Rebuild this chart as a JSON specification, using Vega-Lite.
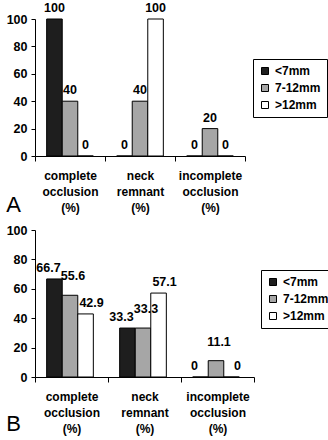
{
  "$schema": "https://vega.github.io/schema/vega-lite/v6.json",
  "background": "white",
  "padding": {"left": 6, "top": 2, "right": 2, "bottom": 1},
  "spacing": 8,
  "config": {
    "font": "Liberation Sans",
    "view": {"stroke": null},
    "axis": {
      "domainColor": "black",
      "tickColor": "black",
      "labelColor": "black",
      "labelFont": "Liberation Sans",
      "labelFontWeight": "bold",
      "grid": false
    },
    "axisX": {"labelFontSize": 12, "labelLineHeight": 16, "tickSize": 5, "labelPadding": 9, "labelAngle": 0},
    "axisY": {"labelFontSize": 12.5, "tickSize": 4, "labelPadding": 4},
    "legend": {
      "orient": "none",
      "title": null,
      "strokeColor": "black",
      "fillColor": "white",
      "padding": 6,
      "symbolType": "square",
      "symbolSize": 49,
      "symbolStrokeColor": "black",
      "symbolStrokeWidth": 1,
      "labelFont": "Liberation Sans",
      "labelFontSize": 12,
      "labelFontWeight": "bold",
      "labelColor": "black",
      "rowPadding": 5,
      "labelOffset": 4
    },
    "title": {"font": "Liberation Sans", "fontSize": 22, "fontWeight": "normal", "color": "black"}
  },
  "data": {
    "values": [
      {"panel": "A", "outcome": "complete occlusion (%)", "size": "<7mm", "value": 100},
      {"panel": "A", "outcome": "complete occlusion (%)", "size": "7-12mm", "value": 40},
      {"panel": "A", "outcome": "complete occlusion (%)", "size": ">12mm", "value": 0},
      {"panel": "A", "outcome": "neck remnant (%)", "size": "<7mm", "value": 0},
      {"panel": "A", "outcome": "neck remnant (%)", "size": "7-12mm", "value": 40},
      {"panel": "A", "outcome": "neck remnant (%)", "size": ">12mm", "value": 100},
      {"panel": "A", "outcome": "incomplete occlusion (%)", "size": "<7mm", "value": 0},
      {"panel": "A", "outcome": "incomplete occlusion (%)", "size": "7-12mm", "value": 20},
      {"panel": "A", "outcome": "incomplete occlusion (%)", "size": ">12mm", "value": 0},
      {"panel": "B", "outcome": "complete occlusion (%)", "size": "<7mm", "value": 66.7},
      {"panel": "B", "outcome": "complete occlusion (%)", "size": "7-12mm", "value": 55.6},
      {"panel": "B", "outcome": "complete occlusion (%)", "size": ">12mm", "value": 42.9},
      {"panel": "B", "outcome": "neck remnant (%)", "size": "<7mm", "value": 33.3},
      {"panel": "B", "outcome": "neck remnant (%)", "size": "7-12mm", "value": 33.3},
      {"panel": "B", "outcome": "neck remnant (%)", "size": ">12mm", "value": 57.1},
      {"panel": "B", "outcome": "incomplete occlusion (%)", "size": "<7mm", "value": 0},
      {"panel": "B", "outcome": "incomplete occlusion (%)", "size": "7-12mm", "value": 11.1},
      {"panel": "B", "outcome": "incomplete occlusion (%)", "size": ">12mm", "value": 0}
    ]
  },
  "resolve": {"scale": {"fill": "independent"}, "legend": {"fill": "independent"}},
  "vconcat": [
    {
      "width": 210,
      "height": 137,
      "transform": [{"filter": "datum.panel == 'A'"}],
      "title": {"text": "A", "orient": "bottom", "anchor": "start", "frame": "bounds", "offset": -18},
      "encoding": {
        "x": {"field": "outcome", "type": "nominal", "sort": ["complete occlusion (%)", "neck remnant (%)", "incomplete occlusion (%)"],
          "scale": {"paddingInner": 0, "paddingOuter": 0},
          "axis": {"title": null, "tickBand": "extent", "labelExpr": "split(datum.label, ' ')"}},
        "xOffset": {"field": "size", "type": "nominal", "sort": ["<7mm", "7-12mm", ">12mm"], "scale": {"paddingInner": 0, "paddingOuter": 0.75}},
        "y": {"field": "value", "type": "quantitative", "scale": {"domain": [0, 100]}, "axis": {"title": null, "values": [0, 20, 40, 60, 80, 100]}}
      },
      "layer": [
        {
          "mark": {"type": "bar", "stroke": "black", "strokeWidth": 1},
          "encoding": {
            "fill": {"field": "size", "type": "nominal", "sort": ["<7mm", "7-12mm", ">12mm"],
              "scale": {"domain": ["<7mm", "7-12mm", ">12mm"], "range": ["#1e1e1e", "#a6a6a6", "#ffffff"]},
              "legend": {"legendX": 218, "legendY": 40}}
          }
        },
        {
          "mark": {"type": "text", "baseline": "alphabetic", "dy": -7, "fontWeight": "bold", "fontSize": 12.5, "color": "black"},
          "encoding": {"text": {"field": "value", "type": "quantitative"}}
        }
      ]
    },
    {
      "width": 219,
      "height": 147,
      "transform": [{"filter": "datum.panel == 'B'"}],
      "title": {"text": "B", "orient": "bottom", "anchor": "start", "frame": "bounds", "offset": -20},
      "encoding": {
        "x": {"field": "outcome", "type": "nominal", "sort": ["complete occlusion (%)", "neck remnant (%)", "incomplete occlusion (%)"],
          "scale": {"paddingInner": 0, "paddingOuter": 0},
          "axis": {"title": null, "tickBand": "extent", "labelExpr": "split(datum.label, ' ')"}},
        "xOffset": {"field": "size", "type": "nominal", "sort": ["<7mm", "7-12mm", ">12mm"], "scale": {"paddingInner": 0, "paddingOuter": 0.75}},
        "y": {"field": "value", "type": "quantitative", "scale": {"domain": [0, 100]}, "axis": {"title": null, "values": [0, 20, 40, 60, 80, 100]}}
      },
      "layer": [
        {
          "mark": {"type": "bar", "stroke": "black", "strokeWidth": 1},
          "encoding": {
            "fill": {"field": "size", "type": "nominal", "sort": ["<7mm", "7-12mm", ">12mm"],
              "scale": {"domain": ["<7mm", "7-12mm", ">12mm"], "range": ["#1e1e1e", "#a6a6a6", "#ffffff"]},
              "legend": {"legendX": 226, "legendY": 40}}
          }
        },
        {
          "transform": [{"filter": "datum.size == '<7mm'"}],
          "mark": {"type": "text", "baseline": "alphabetic", "dy": -7, "dx": -6, "fontWeight": "bold", "fontSize": 12.5, "color": "black"},
          "encoding": {"text": {"field": "value", "type": "quantitative"}}
        },
        {
          "transform": [{"filter": "datum.size == '7-12mm'"}],
          "mark": {"type": "text", "baseline": "alphabetic", "dy": -15, "dx": 3, "fontWeight": "bold", "fontSize": 12.5, "color": "black"},
          "encoding": {"text": {"field": "value", "type": "quantitative"}}
        },
        {
          "transform": [{"filter": "datum.size == '>12mm'"}],
          "mark": {"type": "text", "baseline": "alphabetic", "dy": -7, "dx": 6, "fontWeight": "bold", "fontSize": 12.5, "color": "black"},
          "encoding": {"text": {"field": "value", "type": "quantitative"}}
        }
      ]
    }
  ]
}
